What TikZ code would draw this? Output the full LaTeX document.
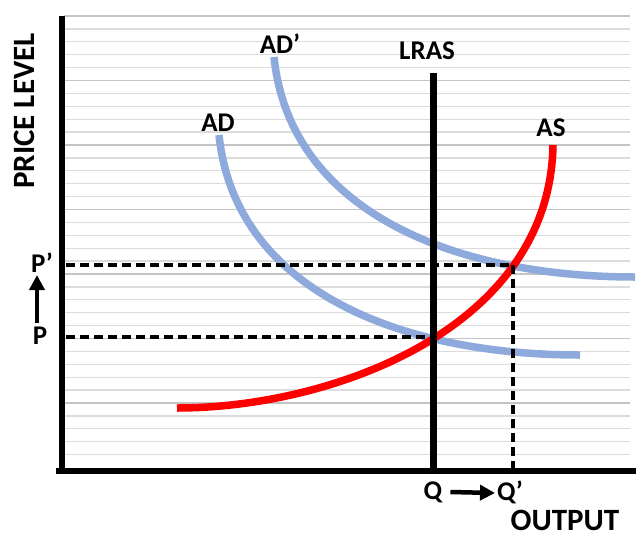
\documentclass[tikz,border=0pt]{standalone}
\usepackage{fontspec}
\setmainfont{Carlito}
\usetikzlibrary{arrows.meta}
\definecolor{adblue}{HTML}{8EA9DB}
\definecolor{asred}{HTML}{FF0000}
\definecolor{gridlight}{HTML}{DCDCDC}
\definecolor{griddark}{HTML}{C4C4C4}
\begin{document}
\begin{tikzpicture}[x=1pt,y=-1pt,
  lbl/.style={font=\bfseries\fontsize{27}{27}\selectfont, inner sep=0pt},
  biglbl/.style={font=\bfseries\fontsize{31}{31}\selectfont, inner sep=0pt},
  gridline/.style={draw=gridlight, line width=1.3pt},
  gridmajor/.style={draw=griddark, line width=1.3pt},
  axisline/.style={line width=6pt},
  lrasline/.style={line width=7pt},
  dline/.style={line width=3.6pt, dash pattern=on 9pt off 5pt},
  adcurve/.style={line width=7.5pt, draw=adblue},
  ascurve/.style={line width=7.5pt, draw=asred},
  shiftarrow/.style={line width=4.5pt, -{Triangle[length=15pt,width=15pt]}}
  ]
\useasboundingbox (0,0) rectangle (640,544);
\fill[white] (0,0) rectangle (640,544);
% grid
\foreach \k in {0,...,34} {
  \pgfmathsetmacro{\yy}{16+12.9*\k}
  \pgfmathtruncatemacro{\m}{mod(\k,5)}
  \ifnum\m=0
    \draw[gridmajor] (64,\yy) -- (630,\yy);
  \else
    \draw[gridline] (64,\yy) -- (630,\yy);
  \fi
}
% key points
\coordinate (O) at (62,471);
\coordinate (Ytop) at (62,16);
\coordinate (Xstart) at (56,471);
\coordinate (Xend) at (636,471);
\coordinate (E1) at (433,337);
\coordinate (E2) at (513,265);
\coordinate (LRtop) at (433,73);
\coordinate (LRbot) at (433,471);
\coordinate (Pax) at (66,337);
\coordinate (P2ax) at (66,265);
\coordinate (Q2ax) at (513,469);
% curves
\draw[adcurve] (219,135) .. controls (235,290) and (400,355) .. (580,355);
\draw[adcurve] (274,57) .. controls (290,212) and (455,277) .. (635,277);
\draw[ascurve] (177,408) .. controls (330,408) and (550,330) .. (553,145);
% LRAS
\draw[lrasline] (LRtop) -- (LRbot);
% dashed guides
\draw[dline] (Pax) -- (E1);
\draw[dline] (P2ax) -- (E2);
\draw[dline] (E2) -- (Q2ax);
% axes
\draw[axisline] (Ytop) -- (O |- Xstart);
\draw[axisline] (Xstart) -- (Xend);
% labels
\node[lbl] (adp) at (280,44) {AD’};
\node[lbl] (ad) at (218,123) {AD};
\node[lbl] (lras) at (427,51) {LRAS};
\node[lbl] (as) at (551,128) {AS};
\node[biglbl, rotate=90] (pl) at (24,111) {PRICE LEVEL};
\node[lbl] (pp) at (42,263) {P’};
\node[lbl] (p) at (40,336) {P};
\node[lbl] (q) at (433,492) {Q};
\node[lbl] (qp) at (510,492) {Q’};
\node[biglbl] (out) at (565,520) {OUTPUT};
% shift arrows
\draw[shiftarrow] (p.north -| 37,0) ++(0,-4) -- (37,275);
\draw[shiftarrow] (q.east) ++(8,0) -- (495,493);
\end{tikzpicture}
\end{document}
